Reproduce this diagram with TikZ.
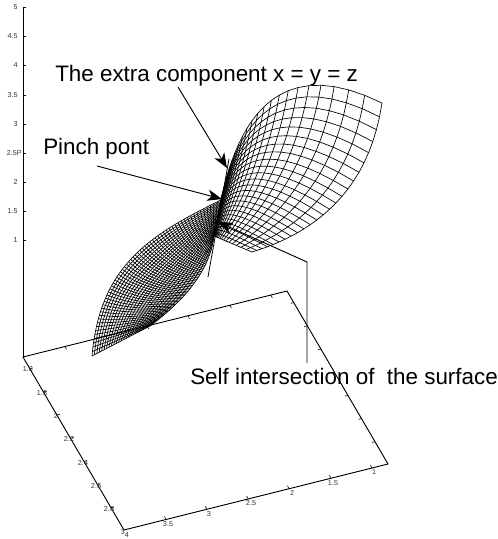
\documentclass[tikz,border=0pt]{standalone}
\usepackage{fontspec}
\setmainfont{Liberation Sans}
\usetikzlibrary{calc,arrows.meta}
\pgfmathdeclarefunction{bz}{5}{\pgfmathparse{(1-#5)*(1-#5)*(1-#5)*#1+3*(1-#5)*(1-#5)*#5*#2+3*(1-#5)*#5*#5*#3+#5*#5*#5*#4}}
\newcommand\NU{84}
\newcommand\NV{24}
\newcommand\NL{60}
\newcommand\NR{24}
\newcommand\tbl[2]{\expandafter\xdef\csname #1\endcsname{#2}}
\newcommand\VV[2]{(#2/\NV+\csname kk#1\endcsname*(#2/\NV)*(#2/\NV-1))}
\newcommand\PX[2]{\csname bx#1\endcsname+(\csname tx#1\endcsname-\csname bx#1\endcsname)*\VV{#1}{#2}+4*\VV{#1}{#2}*(1-\VV{#1}{#2})*\csname cx#1\endcsname}
\newcommand\PY[2]{\csname by#1\endcsname+(\csname ty#1\endcsname-\csname by#1\endcsname)*\VV{#1}{#2}+4*\VV{#1}{#2}*(1-\VV{#1}{#2})*\csname cy#1\endcsname}
\tikzset{
  axisline/.style={line width=0.7pt,black},
  tickline/.style={line width=0.45pt,black},
  meshline/.style={line width=0.5pt,black,line join=round},
  guide/.style={line width=0.7pt,black},
  pointer/.style={line width=0.7pt,black,-{Stealth[length=11pt,width=8.5pt,inset=3pt]}},
  ticklabel/.style={font=\fontsize{5.4pt}{6pt}\selectfont,text=black!80,inner sep=0pt},
  note/.style={font=\fontsize{16.8pt}{19pt}\selectfont,anchor=base west,inner sep=0pt},
}
\begin{document}
\begin{tikzpicture}[x=0.75pt,y=-0.75pt]
\useasboundingbox (0,0) rectangle (497,539);
% surface tables
\foreach \i in {0,...,\NU}{
  \ifnum\i>\NL\relax
    \pgfmathsetmacro\w{(\i-\NL)/\NR}
    \pgfmathsetmacro\tt{pow(\w,1.5)}
    \pgfmathsetmacro\bt{pow(\w,4)}
    \pgfmathsetmacro\a{bz(221,240,285,382,\tt)}\tbl{tx\i}{\a}
    \pgfmathsetmacro\a{bz(200,110,55,103,\tt)}\tbl{ty\i}{\a}
    \pgfmathsetmacro\a{214+38*\bt}\tbl{bx\i}{\a}
    \pgfmathsetmacro\a{236+16*\bt}\tbl{by\i}{\a}
    \pgfmathsetmacro\a{24*pow(\w,3)}\tbl{cx\i}{\a}
    \pgfmathsetmacro\a{20*pow(\w,3)}\tbl{cy\i}{\a}
    \pgfmathsetmacro\a{0.5*\w}\tbl{kk\i}{\a}
  \else
    \pgfmathsetmacro\s{\i/\NL}
    \pgfmathsetmacro\a{bz(92,100,150,221,\s)}\tbl{tx\i}{\a}
    \pgfmathsetmacro\a{bz(356,265,235,200,\s)}\tbl{ty\i}{\a}
    \pgfmathsetmacro\a{bz(150,185,210,214,\s)}\tbl{bx\i}{\a}
    \pgfmathsetmacro\a{bz(326,300,270,236,\s)}\tbl{by\i}{\a}
    \pgfmathsetmacro\a{-3*sin(180*\s)}\tbl{cx\i}{\a}
    \pgfmathsetmacro\a{5*sin(180*\s)}\tbl{cy\i}{\a}
    \tbl{kk\i}{0}
  \fi
}
% lines of constant v
\foreach \j in {0,...,\NV}{
  \draw[meshline] ({\PX{0}{\j}},{\PY{0}{\j}})
    \foreach \i in {1,...,\NU}{ -- ({\PX{\i}{\j}},{\PY{\i}{\j}}) };
}
% lines of constant u
\foreach \i in {0,...,\NU}{
  \draw[meshline] ({\PX{\i}{0}},{\PY{\i}{0}})
    \foreach \j in {1,...,\NV}{ -- ({\PX{\i}{\j}},{\PY{\i}{\j}}) };
}
% axes
\coordinate (ztop) at (23,7);
\coordinate (bl) at (23,357);
\coordinate (bt) at (287,291);
\coordinate (br) at (388,464);
\coordinate (bb) at (124,530);
\draw[axisline] (ztop) -- (bl);
\draw[axisline] (bl) -- (bt) -- (br) -- (bb) -- cycle;
\foreach \v/\y/\n in {5/7/a,4.5/36/b,4/65/c,3.5/95/d,3/124/e,2.5P/153/f,2/182/g,1.5/211/h,1/240/i}{
  \coordinate (zt\n) at (23,\y);
  \draw[tickline] (zt\n) -- ++(3,0);
  \node[ticklabel,anchor=east] (zl\n) at (\if\n f22\else 18\fi,\y) {\v};
}
\foreach \t in {0.159,0.314,0.47,0.625,0.784,0.939}{
  \draw[tickline] ($(bb)!\t!(br)$) -- ++(-1.5,-3);
  \draw[tickline] ($(bl)!\t!(bt)$) -- ++(1.5,3);
}
\foreach \k in {0,...,6}{
  \pgfmathsetmacro\t{(\k+0.5)/7.46}
  \draw[tickline] ($(bl)!\t!(bb)$) -- ++(3,-0.75);
  \draw[tickline] ($(bt)!\t!(br)$) -- ++(-3,0.75);
}
\foreach \v/\x/\y/\n in {1.6/28/369/a,1.8/42/393/b,2/56/416/c,2.2/69/439/d,2.4/83/463/e,2.6/96/486/f,2.8/109/509/g,3/123/532/h,4/127/535/i,3.5/168/524/j,3/209/514/k,2.5/251/503/l,2/292/493/m,1.5/333/483/n,1/374/472/o}{
  \node[ticklabel] (xl\n) at (\x,\y) {\v};
}
% extra component line
\coordinate (ea) at (229,159);
\coordinate (eb) at (208,277);
\draw[guide,line width=0.6pt] (ea) -- (eb);
% notes
\node[note] (extra) at (55,81) {The extra component x = y = z};
\node[note] (pinch) at (43,154) {Pinch pont};
\node[note] (self) at (190,384) {Self intersection of\ \ the surface};
\coordinate (ea0) at (178,87);
\coordinate (ea1) at (227,168);
\coordinate (pa0) at (97,166);
\coordinate (pa1) at (222,199);
\coordinate (sa0) at (307,363);
\coordinate (sa1) at (307,262);
\coordinate (sa2) at (218,222);
\draw[pointer] (ea0) -- (ea1);
\draw[pointer] (pa0) -- (pa1);
\draw[pointer] (sa0) -- (sa1) -- (sa2);
\end{tikzpicture}
\end{document}
